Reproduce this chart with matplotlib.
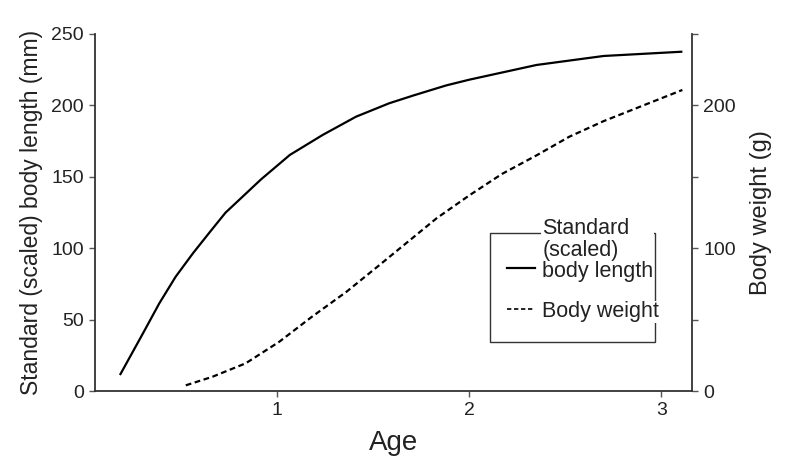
import numpy as np
import matplotlib
matplotlib.use("Agg")
import matplotlib.pyplot as plt
from matplotlib.patches import Rectangle
from matplotlib.lines import Line2D

plt.rcParams['font.family'] = ['Liberation Sans', 'DejaVu Sans']

# growth curves read against age
age_len = [0.18, 0.30, 0.385, 0.47, 0.56, 0.65, 0.73, 0.80, 0.915, 1.065, 1.236,
           1.41, 1.583, 1.71, 1.88, 2.00, 2.35, 2.70, 3.11]
body_length = [11.2, 40.4, 61.4, 80, 96.4, 111.6, 124.9, 133.7, 148.2, 165.3, 179.3,
               192.1, 201.5, 207, 214, 218, 228.3, 234.6, 237.6]

age_wt = [0.523, 0.662, 0.835, 1.01, 1.18, 1.36, 1.53, 1.83, 2.00, 2.17, 2.35,
          2.52, 2.70, 3.11]
body_weight = [4, 10, 19.4, 34.5, 52, 69.5, 88, 121, 137, 152, 165,
               178, 189, 210.8]

length_ticks = [0, 50, 100, 150, 200, 250]
weight_major = [0, 100, 200]
weight_minor = [50, 150, 250]
age_ticks = [1, 2, 3]

ink = '#222222'

fig = plt.figure(figsize=(7.85, 4.7), dpi=100)
ax = fig.add_axes([0.121, 0.168, 0.7605, 0.7597])
ax2 = ax.twinx()

ax.plot(age_len, body_length, color='black', lw=1.6, solid_capstyle='butt',
        solid_joinstyle='round')
ax2.plot(age_wt, body_weight, color='black', lw=1.6, linestyle=(0, (2.6, 1.6)))

ax.set_xlim(0.05, 3.16)
ax.set_ylim(0, 250)
ax2.set_ylim(0, 250)

ax.set_xticks(age_ticks)
ax.set_yticks(length_ticks)
ax2.set_yticks(weight_major)
ax2.set_yticks(weight_minor, minor=True)

for a in (ax, ax2):
    a.spines['top'].set_visible(False)
    for s in a.spines.values():
        s.set_linewidth(1.3)
        s.set_color('#333333')
    a.tick_params(which='both', direction='out', length=4, width=1,
                  colors='#555555', labelcolor=ink, labelsize=14, pad=4)
ax.spines['right'].set_visible(False)
ax2.spines['left'].set_visible(False)
ax2.spines['bottom'].set_visible(False)

ax.set_xlabel('Age', fontsize=20, color=ink, labelpad=8)
ax.set_ylabel('Standard (scaled) body length (mm)', fontsize=16.5, color=ink, labelpad=6)
ax2.set_ylabel('Body weight (g)', fontsize=17, color=ink, labelpad=10)

# legend drawn by hand in axes coordinates
ax.add_patch(Rectangle((0.6616, 0.137), 0.2764, 0.3056, transform=ax.transAxes,
                       fill=False, edgecolor='#333333', lw=1.0, zorder=3))
ax.add_line(Line2D([0.690, 0.737], [0.3445, 0.3445], transform=ax.transAxes,
                   color='black', lw=1.6, zorder=4))
ax.add_line(Line2D([0.690, 0.737], [0.2297, 0.2297], transform=ax.transAxes,
                   color='black', lw=1.2, linestyle=(0, (2.6, 1.6)), zorder=4))
box = dict(facecolor='white', edgecolor='none', pad=0.5)
ax.text(0.749, 0.318, 'Standard\n(scaled)\nbody length', transform=ax.transAxes,
        fontsize=15.5, color=ink, ha='left', va='baseline', linespacing=1.05,
        bbox=box, zorder=5)
ax.text(0.749, 0.222, 'Body weight', transform=ax.transAxes,
        fontsize=15.5, color=ink, ha='left', va='center', bbox=box, zorder=5)

fig.savefig('out.png', dpi=100)
